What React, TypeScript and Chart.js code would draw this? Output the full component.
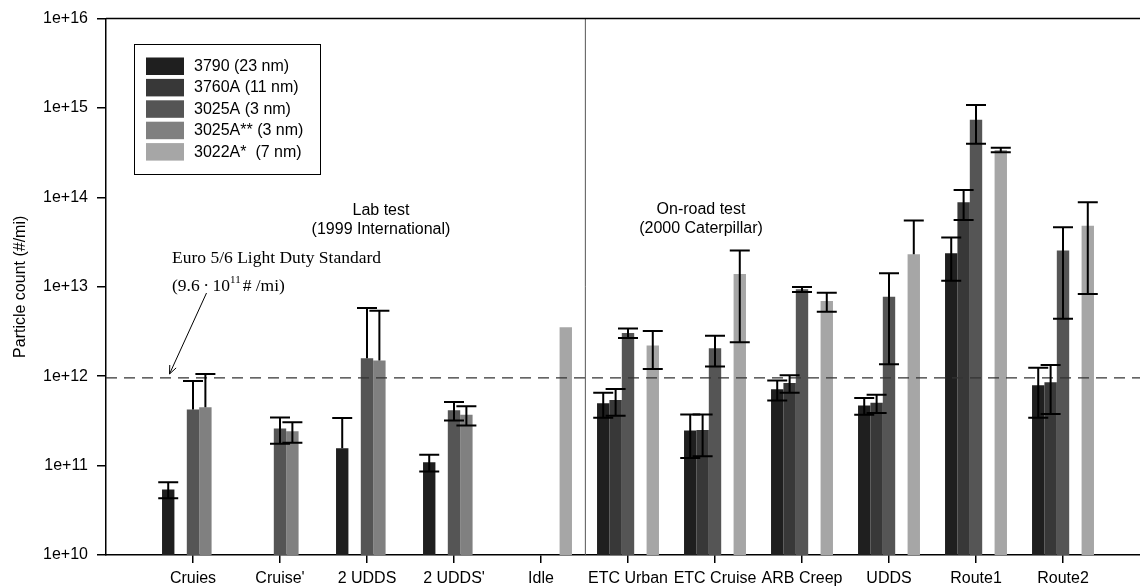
import React, { useEffect, useRef } from "react";
import { Chart, registerables } from "chart.js";

Chart.register(...registerables);

const categories = ["Cruies", "Cruise'", "2 UDDS", "2 UDDS'", "Idle", "ETC Urban", "ETC Cruise", "ARB Creep", "UDDS", "Route1", "Route2"];

const seriesNames = ["3790 (23 nm)", "3760A (11 nm)", "3025A (3 nm)", "3025A** (3 nm)", "3022A*  (7 nm)"];

const values3790 = [5.4e10, null, 1.56e11, 1.09e11, null, 4.99e11, 2.47e11, 7.16e11, 4.71e11, 2.37e13, 7.93e11];
const errors3790 = [1.1e10, null, 1.84e11, 2.3e10, null, 1.55e11, 1.25e11, 1.8e11, 1.0e11, 1.2e13, 4.5e11];

const values3760A = [null, null, null, null, null, 5.4e11, 2.5e11, 8.4e11, 5.04e11, 8.85e13, 8.58e11];
const errors3760A = [null, null, null, null, null, 1.8e11, 1.23e11, 1.85e11, 1.17e11, 3.25e13, 4.8e11];

const values3025A = [4.25e11, 2.6e11, 1.59e12, 4.17e11, null, 3.05e12, 2.06e12, 9.36e12, 7.76e12, 7.38e14, 2.54e13];
const errors3025A = [4.6e11, 8.5e10, 4.2e12, 9.7e10, null, 3.7e11, 7.8e11, 6.0e11, 6.4e12, 3.4e14, 2.1e13];

const values3025Ass = [4.5e11, 2.43e11, 1.5e12, 3.7e11, null, null, null, null, null, null, null];
const errors3025Ass = [6.1e11, 6.3e10, 3.9e12, 9.0e10, null, null, null, null, null, null, null];

const values3022A = [null, null, null, null, 3.52e12, 2.2e12, 1.39e13, 6.93e12, 2.32e13, 3.4e14, 4.83e13];
const errors3022A = [null, null, null, null, null, 1.0e12, 1.15e13, 1.67e12, 3.2e13, 2.0e13, 4.0e13];

const yTickValues = [1e10, 1e11, 1e12, 1e13, 1e14, 1e15, 1e16];
const yTickLabels = ["1e+10", "1e+11", "1e+12", "1e+13", "1e+14", "1e+15", "1e+16"];

const standardValue = 9.6e11;

const seriesValues = [values3790, values3760A, values3025A, values3025Ass, values3022A];
const seriesErrors = [errors3790, errors3760A, errors3025A, errors3025Ass, errors3022A];
const seriesColors = ["#1f1f1f", "#383838", "#555555", "#808080", "#a6a6a6"];

const SANS = '"Liberation Sans", Arial, sans-serif';
const SERIF = '"Liberation Serif", "Times New Roman", serif';

const errorBarPlugin = {
  id: "errorBars",
  afterDatasetsDraw(chart: any) {
    const ctx = chart.ctx;
    const ys = chart.scales.y;
    const xs = chart.scales.x;
    const area = chart.chartArea;
    ctx.save();

    // standard dashed line
    const yStd = ys.getPixelForValue(standardValue);
    ctx.strokeStyle = "#333";
    ctx.lineWidth = 1.2;
    ctx.setLineDash([11, 7]);
    ctx.beginPath();
    ctx.moveTo(area.left, yStd);
    ctx.lineTo(area.right, yStd);
    ctx.stroke();
    ctx.setLineDash([]);

    // divider
    const xd = xs.getPixelForValue(4.51);
    ctx.strokeStyle = "#555";
    ctx.lineWidth = 1;
    ctx.beginPath();
    ctx.moveTo(xd, area.top);
    ctx.lineTo(xd, area.bottom);
    ctx.stroke();

    // error bars
    ctx.strokeStyle = "#000";
    ctx.lineWidth = 2;
    const capHalf = 10;
    seriesValues.forEach((vals, d) => {
      const errs = seriesErrors[d];
      const meta = chart.getDatasetMeta(d);
      vals.forEach((v, j) => {
        const e = errs[j];
        if (v == null || e == null) return;
        const el = meta.data[j];
        if (!el) return;
        const x = el.x;
        const yv = ys.getPixelForValue(v);
        const yu = ys.getPixelForValue(v + e);
        ctx.beginPath();
        ctx.moveTo(x, yv);
        ctx.lineTo(x, yu);
        ctx.moveTo(x - capHalf, yu);
        ctx.lineTo(x + capHalf, yu);
        if (v - e > 0) {
          const yl = ys.getPixelForValue(v - e);
          ctx.moveTo(x, yv);
          ctx.lineTo(x, yl);
          ctx.moveTo(x - capHalf, yl);
          ctx.lineTo(x + capHalf, yl);
        }
        ctx.stroke();
      });
    });
    ctx.restore();
  },
  afterDraw(chart: any) {
    const ctx = chart.ctx;
    const area = chart.chartArea;
    ctx.save();

    // top border
    ctx.strokeStyle = "#000";
    ctx.lineWidth = 1.5;
    ctx.beginPath();
    ctx.moveTo(area.left, area.top);
    ctx.lineTo(area.right, area.top);
    ctx.stroke();

    // y title
    ctx.fillStyle = "#000";
    ctx.font = `16px ${SANS}`;
    ctx.textAlign = "center";
    ctx.textBaseline = "middle";
    ctx.save();
    ctx.translate(21, (area.top + area.bottom) / 2);
    ctx.rotate(-Math.PI / 2);
    ctx.fillText("Particle count (#/mi)", 0, 0);
    ctx.restore();

    // group annotations
    ctx.font = `16px ${SANS}`;
    ctx.textAlign = "center";
    ctx.fillText("Lab test", 381, 211);
    ctx.fillText("(1999 International)", 381, 230);
    ctx.fillText("On-road test", 701, 210);
    ctx.fillText("(2000 Caterpillar)", 701, 229);

    // standard label
    ctx.textAlign = "left";
    ctx.font = `17.5px ${SERIF}`;
    ctx.fillText("Euro 5/6 Light Duty Standard", 172, 258);
    let x = 172;
    const y2 = 286;
    const p1 = "(9.6\u2009\u00b7\u200910";
    ctx.fillText(p1, x, y2);
    x += ctx.measureText(p1).width;
    ctx.font = `11px ${SERIF}`;
    ctx.fillText("11", x, y2 - 6);
    x += ctx.measureText("11").width + 2;
    ctx.font = `17.5px ${SERIF}`;
    ctx.fillText("# /mi)", x, y2);

    // arrow
    const x0 = 206.5, y0 = 293, x1 = 169.5, y1 = 374;
    ctx.strokeStyle = "#000";
    ctx.lineWidth = 1;
    ctx.beginPath();
    ctx.moveTo(x0, y0);
    ctx.lineTo(x1, y1);
    const ang = Math.atan2(y0 - y1, x0 - x1);
    const hl = 9;
    const spread = 0.4;
    ctx.moveTo(x1, y1);
    ctx.lineTo(x1 + hl * Math.cos(ang + spread), y1 + hl * Math.sin(ang + spread));
    ctx.moveTo(x1, y1);
    ctx.lineTo(x1 + hl * Math.cos(ang - spread), y1 + hl * Math.sin(ang - spread));
    ctx.stroke();

    // legend
    ctx.strokeStyle = "#000";
    ctx.lineWidth = 1;
    ctx.strokeRect(134.5, 44.5, 186, 130);
    ctx.font = `16px ${SANS}`;
    ctx.textBaseline = "middle";
    ctx.textAlign = "left";
    seriesNames.forEach((name, i) => {
      const top = 57.5 + i * 21.4;
      ctx.fillStyle = seriesColors[i];
      ctx.fillRect(146, top, 38, 17.5);
      ctx.fillStyle = "#000";
      ctx.fillText(name, 194, top + 9);
    });

    ctx.restore();
  },
};

export default function App() {
  const canvasRef = useRef<HTMLCanvasElement | null>(null);

  useEffect(() => {
    document.body.style.margin = "0";
    const canvas = canvasRef.current;
    if (!canvas) return;
    const datasets = seriesValues.map((vals, d) => ({
      label: seriesNames[d],
      data: categories.map((_, i) => ({ x: i, y: vals[i] })),
      backgroundColor: seriesColors[d],
      borderWidth: 0,
      categoryPercentage: 0.712,
      barPercentage: 1.0,
    }));
    const chart = new Chart(canvas, {
      type: "bar",
      data: { datasets } as any,
      options: {
        animation: false,
        responsive: false,
        devicePixelRatio: 1,
        layout: { padding: { top: 18, left: 0, right: 0, bottom: 0 } },
        plugins: { legend: { display: false }, tooltip: { enabled: false } },
        scales: {
          x: {
            type: "linear",
            min: -1,
            max: 10.885,
            offset: false,
            afterBuildTicks: (s: any) => {
              s.ticks = categories.map((_, i) => ({ value: i }));
            },
            afterFit: (s: any) => {
              s.height = 33;
            },
            ticks: {
              autoSkip: false,
              maxRotation: 0,
              padding: 6,
              color: "#000",
              font: { size: 16, family: SANS },
              callback: (v: any) => categories[Math.round(Number(v))] ?? "",
            },
            grid: { display: true, drawOnChartArea: false, drawTicks: true, tickLength: 8, color: "#000", lineWidth: 1.5, offset: false },
            border: { display: true, color: "#000", width: 1.5 },
          },
          y: {
            type: "logarithmic",
            min: 1e10,
            max: 1e16,
            afterBuildTicks: (s: any) => {
              s.ticks = yTickValues.map((v) => ({ value: v }));
            },
            afterFit: (s: any) => {
              s.width = 106;
            },
            ticks: {
              padding: 9,
              color: "#000",
              font: { size: 16, family: SANS },
              callback: (v: any) => {
                const idx = yTickValues.findIndex((t) => Math.abs(Math.log10(t) - Math.log10(Number(v))) < 1e-6);
                return idx >= 0 ? yTickLabels[idx] : "";
              },
            },
            grid: { display: true, drawOnChartArea: false, drawTicks: true, tickLength: 9, color: "#000", lineWidth: 1.5 },
            border: { display: true, color: "#000", width: 1.5 },
          },
        },
      } as any,
      plugins: [errorBarPlugin],
    });
    return () => chart.destroy();
  }, []);

  return (
    <div style={{ position: "absolute", left: 0, top: 0, width: 1140, height: 588, background: "#fff" }}>
      <canvas ref={canvasRef} width={1140} height={588} style={{ display: "block", width: 1140, height: 588 }} />
    </div>
  );
}
